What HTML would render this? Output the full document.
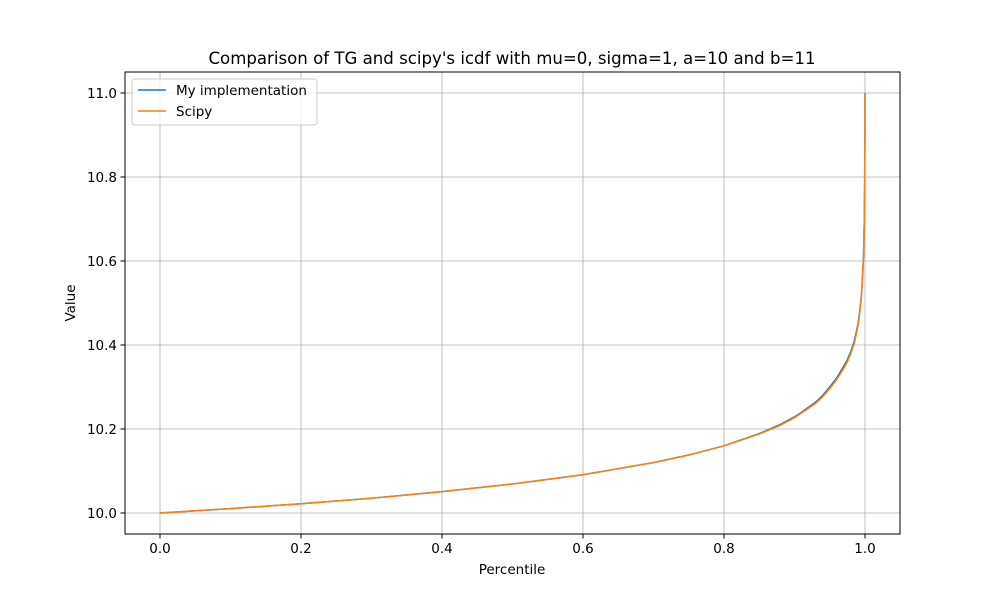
<!DOCTYPE html>
<html><head><meta charset="utf-8"><style>
body{margin:0;background:#fff;}
svg{display:block;font-family:"DejaVu Sans","Liberation Sans",sans-serif;}
</style></head><body>
<svg id="chart" width="1000" height="600" viewBox="0 0 1000 600">
<rect width="1000" height="600" fill="#fff"/>
<g id="grid"></g>
<g id="lines"></g>
<rect x="125" y="72" width="775" height="462" fill="none" stroke="#000" stroke-width="1"/>
<g id="ticks"></g>
<text x="512" y="64" text-anchor="middle" font-size="16.6">Comparison of TG and scipy's icdf with mu=0, sigma=1, a=10 and b=11</text>
<text x="512" y="574" text-anchor="middle" font-size="13.5">Percentile</text>
<text x="75" y="303" text-anchor="middle" font-size="13.5" transform="rotate(-90 75 303)">Value</text>
<g>
<rect x="132" y="79" width="185" height="46" rx="3" fill="#fff" fill-opacity="0.8" stroke="#ccc"/>
<line x1="138" y1="90" x2="166" y2="90" stroke="#1f77b4" stroke-width="1.5"/>
<text x="176" y="95" font-size="13.5">My implementation</text>
<line x1="138" y1="111" x2="166" y2="111" stroke="#ff7f0e" stroke-width="1.5"/>
<text x="176" y="116" font-size="13.5">Scipy</text>
</g>
</svg>
<script>
const percentiles=[0,0.1,0.2,0.3,0.4,0.5,0.6,0.7,0.75,0.8,0.85,0.88,0.9,0.91,0.93,0.94,0.95,0.96,0.97,0.975,0.98,0.985,0.99,0.9925,0.995,0.997,0.998,0.999,0.9995,0.9999,1.0];
const mineValues=[10.0,10.0105,10.022,10.035,10.051,10.069,10.091,10.12,10.138,10.16,10.189,10.211,10.229,10.24,10.264,10.28,10.3,10.322,10.35,10.365,10.385,10.41,10.45,10.48,10.52,10.58,10.62,10.7,10.78,10.9,11.0];
const scipyValues=[10.0,10.0105,10.022,10.035,10.051,10.069,10.091,10.12,10.138,10.16,10.188,10.209,10.227,10.238,10.261,10.277,10.296,10.318,10.345,10.36,10.38,10.405,10.445,10.475,10.515,10.575,10.615,10.7,10.78,10.9,11.0];
const xTicks=[0,0.2,0.4,0.6,0.8,1.0];
const xTickLabels=["0.0","0.2","0.4","0.6","0.8","1.0"];
const yTicks=[10.0,10.2,10.4,10.6,10.8,11.0];
const yTickLabels=["10.0","10.2","10.4","10.6","10.8","11.0"];
const X=v=>160+v*705, Y=v=>513-(v-10)*420;
const NS="http://www.w3.org/2000/svg";
const grid=document.getElementById('grid'),ticks=document.getElementById('ticks'),lines=document.getElementById('lines');
function mk(tag,attrs,parent){const e=document.createElementNS(NS,tag);for(const k in attrs)e.setAttribute(k,attrs[k]);parent.appendChild(e);return e;}
xTicks.forEach((v,i)=>{
 const g=mk('line',{x1:X(v),x2:X(v),y1:72,y2:534,stroke:'#b0b0b0','stroke-width':0.8},grid);
 
 
 mk('line',{x1:X(v),x2:X(v),y1:534,y2:538.5,stroke:'#000'},ticks);
 const t=mk('text',{x:X(v),y:553,'text-anchor':'middle','font-size':13.5},ticks);
 t.textContent=xTickLabels[i];
 
 
});
yTicks.forEach((v,i)=>{
 const g=mk('line',{x1:125,x2:900,y1:Y(v),y2:Y(v),stroke:'#b0b0b0','stroke-width':0.8},grid);
 
 
 mk('line',{x1:120.5,x2:125,y1:Y(v),y2:Y(v),stroke:'#000'},ticks);
 const t=mk('text',{x:117,y:Y(v)+5,'text-anchor':'end','font-size':13.5},ticks);
 t.textContent=yTickLabels[i];
 
 
});
function series(vals,color,name){
 const d=percentiles.map((p,i)=>(i?'L':'M')+X(p).toFixed(2)+' '+Y(vals[i]).toFixed(2)).join(' ');
 const p=mk('path',{d:d,fill:'none',stroke:color,'stroke-width':1.5,'stroke-linejoin':'round'},lines);
 
 
}
series(mineValues,'#1f77b4','series-mine');
series(scipyValues,'#ff7f0e','series-scipy');
</script>
</body></html>
